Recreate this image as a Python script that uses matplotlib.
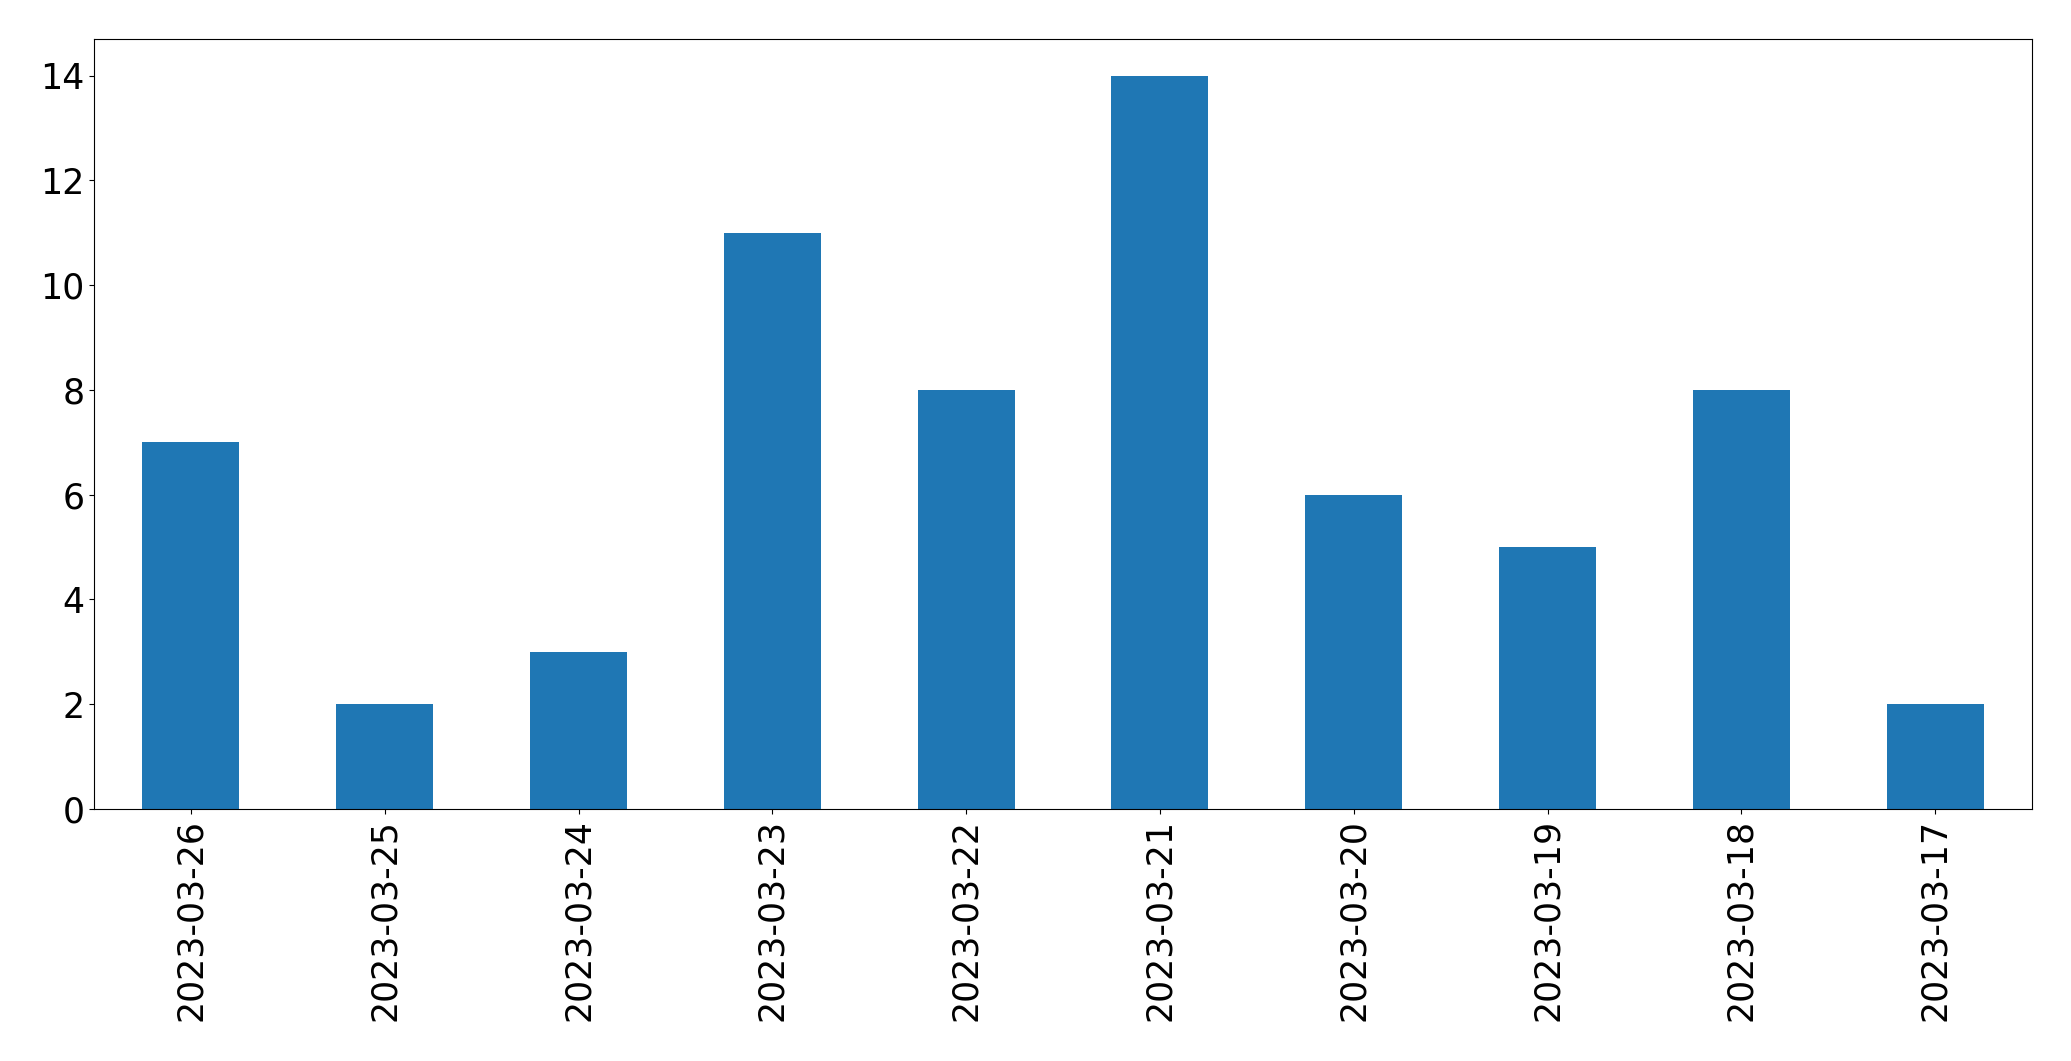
import numpy as np
import matplotlib
matplotlib.use('Agg')
import matplotlib.pyplot as plt

dates = ['2023-03-26', '2023-03-25', '2023-03-24', '2023-03-23', '2023-03-22',
         '2023-03-21', '2023-03-20', '2023-03-19', '2023-03-18', '2023-03-17']
counts = [7, 2, 3, 11, 8, 14, 6, 5, 8, 2]

fig, ax = plt.subplots(figsize=(20.71, 10.61), dpi=100)
fig.subplots_adjust(left=0.0454, right=0.9812, top=0.9632, bottom=0.2375)

x = np.arange(len(dates))
ax.bar(x, counts, width=0.5, color='#1f77b4')
ax.set_xlim(-0.5, len(dates) - 0.5)
ax.set_xticks(x)
ax.set_xticklabels(dates, rotation=90)
ax.tick_params(axis='both', labelsize=25)

fig.savefig('out.png', dpi=100)
